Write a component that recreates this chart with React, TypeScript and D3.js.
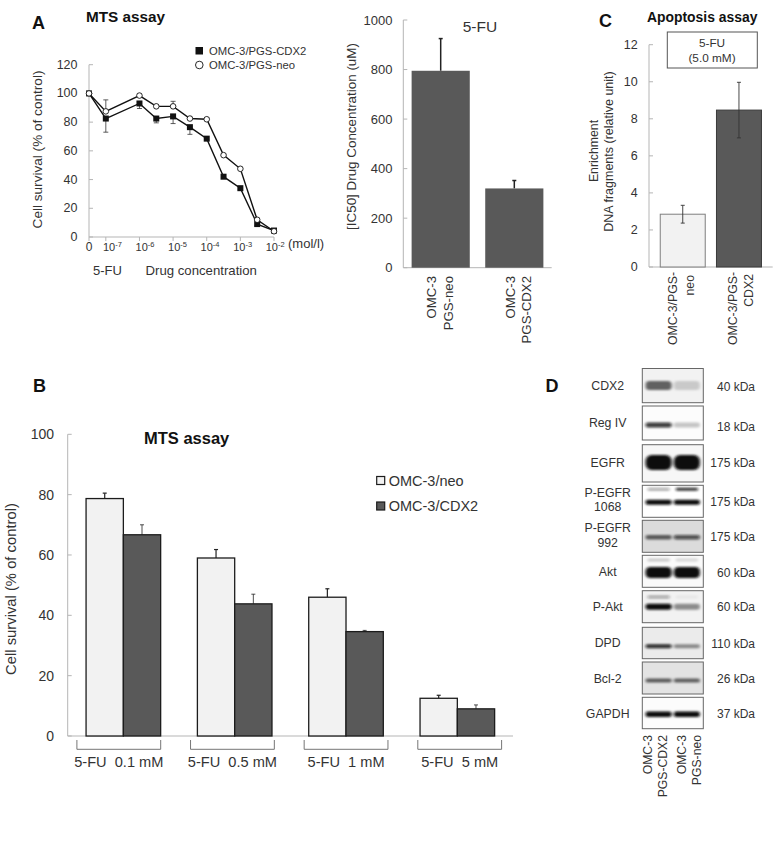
import React from "react";
import * as d3 from "d3";

// ---------- Panel A data
const doseLabels = ["0", "-7", "", "-6", "", "-5", "", "-4", "", "-3", "", "-2"];
const doseSlots = [0, 1, 3, 4, 5, 6, 7, 8, 9, 10, 11];
const doseTicks = [0, 1, 3, 5, 7, 9, 11];
const curveCdx2 = [100, 82.5, 93, 82.5, 84, 76.5, 68.5, 42, 34, 9, 4.5];
const curveNeo = [100, 87.5, 98.5, 91, 91, 82.5, 82, 57, 47.5, 12, 4];
const curveCdx2Err = [0, 9.5, 3.5, 3, 5, 5, 1, 1, 1, 1, 1];
const curveNeoErr = [0, 8, 1, 1, 3.5, 1, 1, 1, 1, 1, 1];

// ---------- IC50 data
const ic50Cats = [["OMC-3", "PGS-neo"], ["OMC-3", "PGS-CDX2"]];
const ic50Vals = [795, 320];
const ic50Err = [130, 32];

// ---------- Panel C data
const apopCats = [["OMC-3/PGS-", "neo"], ["OMC-3/PGS-", "CDX2"]];
const apopVals = [2.85, 8.47];
const apopErr = [0.48, 1.5];

// ---------- Panel B data
const doseGroups = ["5-FU  0.1 mM", "5-FU  0.5 mM", "5-FU  1 mM", "5-FU  5 mM"];
const survNeo = [78.7, 59, 46, 12.5];
const survCdx2 = [66.7, 43.8, 34.6, 9];
const survNeoErr = [1.8, 2.8, 2.8, 1];
const survCdx2Err = [3.3, 3.2, 0.4, 1.3];

// ---------- Panel D data
const blotNames = [["CDX2"], ["Reg IV"], ["EGFR"], ["P-EGFR", "1068"], ["P-EGFR", "992"], ["Akt"], ["P-Akt"], ["DPD"], ["Bcl-2"], ["GAPDH"]];
const blotKda = ["40 kDa", "18 kDa", "175 kDa", "175 kDa", "175 kDa", "60 kDa", "60 kDa", "110 kDa", "26 kDa", "37 kDa"];
const lane1Signal = [0.6, 0.8, 1, 1, 0.6, 1, 1, 0.85, 0.6, 1];
const lane2Signal = [0.17, 0.22, 1, 1, 0.68, 1, 0.42, 0.42, 0.58, 1];
const upperLane1 = [0, 0, 0, 0.35, 0, 0.2, 0.35, 0, 0, 0];
const upperLane2 = [0, 0, 0, 0.85, 0, 0.15, 0.05, 0, 0, 0];
const blotBackground = [0.05, 0.01, 0.03, 0, 0.14, 0.02, 0.05, 0.08, 0.11, 0.01];

// ---------- Layout (not data)
const blotTops = [368.5, 406, 444.7, 485.3, 520.3, 555.3, 590.7, 627.3, 662, 697.3];
const blotBottoms = [402.7, 440, 482, 517.3, 552.3, 587.3, 622.7, 658.7, 694, 728.7];
const bandCentre = [0.5, 0.56, 0.48, 0.53, 0.53, 0.54, 0.5, 0.6, 0.58, 0.54];
const bandThick = [9, 5, 15, 5, 4.5, 11, 6, 4, 4, 5.5];
const upperCentre = [0, 0, 0, 0.12, 0, 0.15, 0.2, 0, 0, 0];
const nameY = [[386], [423.3], [462.7], [492.7, 507.3], [527.7, 542.7], [571.7], [606.7], [643.3], [678.7], [713.7]];
const kdaY = [386.7, 426.7, 462.7, 501.7, 536.7, 572.7, 607, 644.3, 678.7, 713.7];

const FONT = "'Liberation Sans', Arial, sans-serif";
const INK = "#333";
const AXIS = "#b5b5b5";
const DARK = "#595959";
const LIGHT = "#f2f2f2";

type TP = React.SVGProps<SVGTextElement>;
const T = (p: TP) => <text fontFamily={FONT} fill={INK} dominantBaseline="central" {...p} />;

const YAxis = ({ scale, ticks, x, fs, labelEnd, fmt }: any) => (
  <g>
    <line x1={x} x2={x} y1={scale(ticks[ticks.length - 1])} y2={scale(0)} stroke={AXIS} />
    {ticks.map((t: number) => (
      <g key={t}>
        <line x1={x} x2={x + 4} y1={scale(t)} y2={scale(t)} stroke={AXIS} />
        <T x={labelEnd} y={scale(t)} fontSize={fs} textAnchor="end">{fmt ? fmt(t) : t}</T>
      </g>
    ))}
  </g>
);

const VText = ({ x, y, fs, anchor = "middle", children }: any) => (
  <T transform={`translate(${x},${y}) rotate(-90)`} fontSize={fs} textAnchor={anchor}>{children}</T>
);

const ErrBar = ({ x, lo, hi, cap = 3, sw = 1, color = "#222" }: any) => (
  <g stroke={color} strokeWidth={sw}>
    <line x1={x} x2={x} y1={lo} y2={hi} />
    <line x1={x - cap} x2={x + cap} y1={hi} y2={hi} />
  </g>
);

function PanelA() {
  const x = d3.scaleLinear().domain([0, 11]).range([89, 274]);
  const labelX = d3.scaleLinear().domain([1, 11]).range([103, 265.7]);
  const y = d3.scaleLinear().domain([0, 120]).range([237, 64.7]);
  const line = d3.line<number>().x((_, i) => x(doseSlots[i])).y((d) => y(d));
  return (
    <g>
      <T x={32} y={23} fontSize={18} fontWeight="bold" fill="#111">A</T>
      <T x={86} y={16} fontSize={15.3} fontWeight="bold" fill="#111">MTS assay</T>
      <YAxis scale={y} ticks={[0, 20, 40, 60, 80, 100, 120]} x={89} fs={12.5} labelEnd={77.5} />
      <line x1={89} x2={274} y1={237} y2={237} stroke={AXIS} />
      {doseTicks.map((t) => (
        <g key={t}>
          <line x1={x(t)} x2={x(t)} y1={237} y2={241} stroke={AXIS} />
          {t === 0 ? (
            <T x={x(t)} y={247} fontSize={12} textAnchor="middle">0</T>
          ) : (
            <T x={labelX(t)} y={247} fontSize={11}>
              10<tspan fontSize={7.5} dy={-3}>{doseLabels[t]}</tspan>
            </T>
          )}
        </g>
      ))}
      <T x={288} y={243} fontSize={13}>(mol/l)</T>
      <T x={93} y={270} fontSize={13}>5-FU</T>
      <T x={145.5} y={270} fontSize={13.2}>Drug concentration</T>
      <VText x={37.5} y={149.5} fs={13.6}>Cell survival (% of control)</VText>
      {curveCdx2.map((v, i) => curveCdx2Err[i] > 0 && (
        <g key={i} stroke="#333" strokeWidth={0.8}>
          <line x1={x(doseSlots[i])} x2={x(doseSlots[i])} y1={y(v - curveCdx2Err[i])} y2={y(v)} />
          <line x1={x(doseSlots[i]) - 2.5} x2={x(doseSlots[i]) + 2.5} y1={y(v - curveCdx2Err[i])} y2={y(v - curveCdx2Err[i])} />
        </g>
      ))}
      {curveNeo.map((v, i) => curveNeoErr[i] > 0 && (
        <g key={i} stroke="#333" strokeWidth={0.8}>
          <line x1={x(doseSlots[i])} x2={x(doseSlots[i])} y1={y(v + curveNeoErr[i])} y2={y(v)} />
          <line x1={x(doseSlots[i]) - 2.5} x2={x(doseSlots[i]) + 2.5} y1={y(v + curveNeoErr[i])} y2={y(v + curveNeoErr[i])} />
        </g>
      ))}
      <path d={line(curveCdx2) as string} fill="none" stroke="#111" strokeWidth={1.4} />
      <path d={line(curveNeo) as string} fill="none" stroke="#111" strokeWidth={1.4} />
      {curveCdx2.map((v, i) => (
        <rect key={i} x={x(doseSlots[i]) - 3} y={y(v) - 3} width={6} height={6} fill="#111" />
      ))}
      {curveNeo.map((v, i) => (
        <circle key={i} cx={x(doseSlots[i])} cy={y(v)} r={2.8} fill="#fff" stroke="#111" strokeWidth={0.9} />
      ))}
      <rect x={195.5} y={47} width={7.5} height={7.5} fill="#111" />
      <T x={209} y={50.7} fontSize={11.3}>OMC-3/PGS-CDX2</T>
      <circle cx={199.3} cy={65} r={3.8} fill="#fff" stroke="#111" strokeWidth={0.9} />
      <T x={209} y={65} fontSize={11.3}>OMC-3/PGS-neo</T>
    </g>
  );
}

function PanelIC50() {
  const y = d3.scaleLinear().domain([0, 1000]).range([267.7, 20]);
  const x = d3.scaleBand<number>().domain([0, 1]).range([403.3, 551.7]).paddingInner(0.21).paddingOuter(0.113);
  const textX = [[431.7, 448.3], [510, 526]];
  return (
    <g>
      <YAxis scale={y} ticks={[0, 200, 400, 600, 800, 1000]} x={403.3} fs={13} labelEnd={392.5} />
      <line x1={403.3} x2={551.7} y1={267.7} y2={267.7} stroke={AXIS} />
      {ic50Vals.map((v, i) => {
        const cx = (x(i) as number) + x.bandwidth() / 2;
        return (
          <g key={i}>
            <ErrBar x={cx} lo={y(v)} hi={y(v + ic50Err[i])} cap={2} sw={1.5} />
            <rect x={x(i)} y={y(v)} width={x.bandwidth()} height={y(0) - y(v)} fill={DARK} />
            {ic50Cats[i].map((l, j) => (
              <VText key={j} x={textX[i][j]} y={276} fs={13.2} anchor="end">{l}</VText>
            ))}
          </g>
        );
      })}
      <T x={462.7} y={26} fontSize={15.5}>5-FU</T>
      <VText x={351} y={136.5} fs={13.4}>[IC50] Drug Concentration (uM)</VText>
    </g>
  );
}

function PanelC() {
  const y = d3.scaleLinear().domain([0, 12]).range([267, 44.7]);
  const x = d3.scaleBand<number>().domain([0, 1]).range([649, 772.7]).paddingInner(0.2).paddingOuter(0.2);
  const textX = [[673.3, 690], [733, 749]];
  const textEnd = [[272, 275], [272, 274]];
  const fills = [LIGHT, DARK];
  const strokes = ["#7f7f7f", "#3a3a3a"];
  return (
    <g>
      <T x={599} y={21} fontSize={18} fontWeight="bold" fill="#111">C</T>
      <T x={647} y={17.3} fontSize={13.9} fontWeight="bold" fill="#111">Apoptosis assay</T>
      <YAxis scale={y} ticks={[0, 2, 4, 6, 8, 10, 12]} x={649} fs={12.5} labelEnd={637.7} />
      <line x1={649} x2={772.7} y1={267} y2={267} stroke={AXIS} />
      <rect x={667.3} y={32} width={90} height={36} fill="#fff" stroke="#555" />
      <T x={712} y={42.7} fontSize={11.8} textAnchor="middle">5-FU</T>
      <T x={712} y={58} fontSize={11.8} textAnchor="middle">(5.0 mM)</T>
      <VText x={594.3} y={151} fs={12.3}>Enrichment</VText>
      <VText x={609} y={151.5} fs={12.5}>DNA fragments (relative unit)</VText>
      {apopVals.map((v, i) => {
        const cx = (x(i) as number) + x.bandwidth() / 2;
        return (
          <g key={i}>
            <rect x={x(i)} y={y(v)} width={x.bandwidth()} height={y(0) - y(v)} fill={fills[i]} stroke={strokes[i]} />
            <g stroke="#333" strokeWidth={0.9}>
              <line x1={cx} x2={cx} y1={y(v - apopErr[i])} y2={y(v + apopErr[i])} />
              <line x1={cx - 2} x2={cx + 2} y1={y(v - apopErr[i])} y2={y(v - apopErr[i])} />
              <line x1={cx - 2} x2={cx + 2} y1={y(v + apopErr[i])} y2={y(v + apopErr[i])} />
            </g>
            {apopCats[i].map((l, j) => (
              <VText key={j} x={textX[i][j]} y={textEnd[i][j]} fs={12.3} anchor="end">{l}</VText>
            ))}
          </g>
        );
      })}
    </g>
  );
}

function PanelB() {
  const y = d3.scaleLinear().domain([0, 100]).range([736, 434.3]);
  const g = d3.scaleBand<number>().domain([0, 1, 2, 3]).range([67.7, 513]).paddingInner(0.33).paddingOuter(0.165);
  const inner = d3.scaleBand<number>().domain([0, 1]).range([0, g.bandwidth()]);
  const bracket = d3.scaleLinear().domain([0, 3]).range([118.8, 459.7]);
  const halfBracket = 41.9;
  const series = [
    { v: survNeo, e: survNeoErr, f: LIGHT },
    { v: survCdx2, e: survCdx2Err, f: DARK },
  ];
  return (
    <g>
      <T x={33} y={385.5} fontSize={18} fontWeight="bold" fill="#111">B</T>
      <T x={144} y={438} fontSize={16.5} fontWeight="bold" fill="#111">MTS assay</T>
      <YAxis scale={y} ticks={[0, 20, 40, 60, 80, 100]} x={67.7} fs={14} labelEnd={54} />
      <line x1={67.7} x2={513} y1={736} y2={736} stroke={AXIS} />
      <VText x={11} y={589} fs={14.8}>Cell survival (% of control)</VText>
      {doseGroups.map((label, i) => {
        const gx = g(i) as number;
        const mid = bracket(i);
        return (
          <g key={i}>
            {series.map((s, k) => {
              const bx = gx + (inner(k) as number);
              const cx = bx + inner.bandwidth() / 2;
              return (
                <g key={k}>
                  <g stroke="#222" strokeWidth={k === 0 ? 1.2 : 0.8}>
                    <line x1={cx} x2={cx} y1={y(s.v[i])} y2={y(s.v[i] + s.e[i])} />
                    <line x1={cx - 2} x2={cx + 2} y1={y(s.v[i] + s.e[i])} y2={y(s.v[i] + s.e[i])} />
                  </g>
                  <rect x={bx} y={y(s.v[i])} width={inner.bandwidth()} height={y(0) - y(s.v[i])} fill={s.f} stroke="#1c1c1c" strokeWidth={1.3} />
                </g>
              );
            })}
            <path d={`M${mid - halfBracket},740V749.3H${mid + halfBracket}V740`} fill="none" stroke="#666" strokeWidth={0.9} />
            <T x={mid} y={761.7} fontSize={14.6} textAnchor="middle" style={{ whiteSpace: "pre" }}>{label}</T>
          </g>
        );
      })}
      <rect x={376.7} y={476.5} width={8} height={8} fill={LIGHT} stroke="#1c1c1c" strokeWidth={1.2} />
      <T x={388.7} y={480.7} fontSize={14.5}>OMC-3/neo</T>
      <rect x={376.7} y={502} width={8} height={8} fill={DARK} stroke="#1c1c1c" strokeWidth={1.2} />
      <T x={388.7} y={506} fontSize={14.5}>OMC-3/CDX2</T>
    </g>
  );
}

function PanelD() {
  const lane = d3.scaleBand<number>().domain([0, 1]).range([644.5, 701]).paddingInner(0.08).paddingOuter(0.04);
  const level = d3.scaleLinear().domain([0, 1]).range([255, 0]);
  const bg = (v: number) => d3.rgb(level(v), level(v), level(v)).formatHex();
  return (
    <g>
      <defs>
        <filter id="soft" x="-30%" y="-100%" width="160%" height="300%">
          <feGaussianBlur stdDeviation="1.5 1.1" />
        </filter>
      </defs>
      <T x={545.5} y={385.5} fontSize={18} fontWeight="bold" fill="#111">D</T>
      {blotNames.map((names, i) => {
        const top = blotTops[i];
        const h = blotBottoms[i] - top;
        const cy = top + h * bandCentre[i];
        const uy = top + h * upperCentre[i];
        const bandW = lane.bandwidth();
        return (
          <g key={i}>
            <clipPath id={`c${i}`}><rect x={642.3} y={top} width={61} height={h} /></clipPath>
            <rect x={642.3} y={top} width={61} height={h} fill={bg(blotBackground[i])} />
            <g clipPath={`url(#c${i})`}>
              <g filter="url(#soft)">
                {[lane1Signal, lane2Signal].map((sig, l) => (
                  <rect key={l} x={lane(l)} y={cy - bandThick[i] / 2} width={bandW} height={bandThick[i]} rx={bandThick[i] / 2.5} fill="#0a0a0a" opacity={sig[i]} />
                ))}
                {[upperLane1, upperLane2].map((sig, l) => sig[i] > 0 && (
                  <rect key={l} x={(lane(l) as number) + 2} y={uy - 1.5} width={bandW - 4} height={3} rx={1} fill="#111" opacity={sig[i]} />
                ))}
              </g>
            </g>
            <rect x={642.3} y={top} width={61} height={h} fill="none" stroke="#666" strokeWidth={1} />
            {names.map((n, j) => (
              <T key={j} x={607.7} y={nameY[i][j]} fontSize={12.3} textAnchor="middle">{n}</T>
            ))}
            <T x={755} y={kdaY[i]} fontSize={12} textAnchor="end">{blotKda[i]}</T>
          </g>
        );
      })}
      <VText x={648.3} y={735} fs={12.2} anchor="end">OMC-3</VText>
      <VText x={663.3} y={735} fs={12.2} anchor="end">PGS-CDX2</VText>
      <VText x={681.7} y={735} fs={12.2} anchor="end">OMC-3</VText>
      <VText x={696.7} y={735} fs={12.2} anchor="end">PGS-neo</VText>
    </g>
  );
}

export default function App() {
  return (
    <svg width={779} height={841} viewBox="0 0 779 841" style={{ position: "absolute", left: 0, top: 0, background: "#fff" }}>
      <PanelA />
      <PanelIC50 />
      <PanelC />
      <PanelB />
      <PanelD />
    </svg>
  );
}
